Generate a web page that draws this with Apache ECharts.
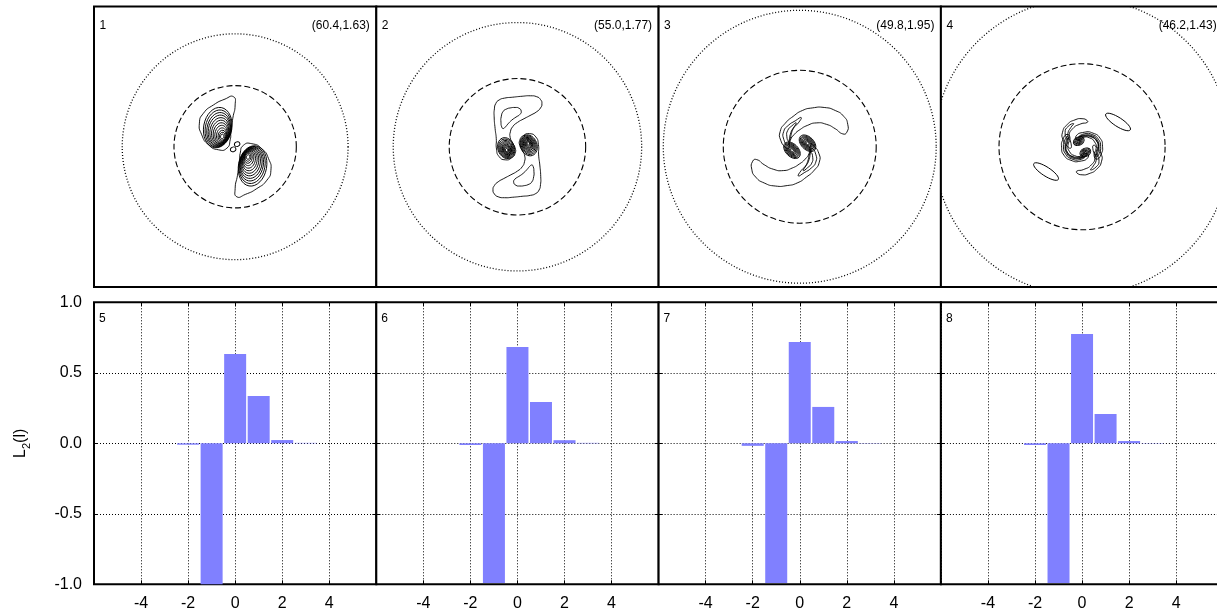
<!DOCTYPE html>
<html>
<head>
<meta charset="utf-8">
<title>Vortex snapshots and L2(l)</title>
<script src="https://cdn.jsdelivr.net/npm/echarts@6/dist/echarts.min.js"></script>
<style>
  html, body { margin: 0; padding: 0; background: #fff; }
  #chart { width: 1217px; height: 612px; }
</style>
</head>
<body>
<div id="chart"></div>
<script>
// ---------------- values ----------------
// angular momentum channels and the L2(l) weights of snapshots 5..8
const lValues  = [-3, -2, -1, 0, 1, 2, 3];
const L2Panel5 = [0.000, -0.010, -1.000, 0.633, 0.335, 0.023, 0.003];
const L2Panel6 = [0.000, -0.012, -0.990, 0.683, 0.293, 0.022, 0.003];
const L2Panel7 = [0.000, -0.018, -0.990, 0.719, 0.258, 0.016, 0.002];
const L2Panel8 = [0.000, -0.012, -0.990, 0.775, 0.208, 0.016, 0.002];

const xTickLabels = [-4, -2, 0, 2, 4];
const yTickLabels = [-1.0, -0.5, 0.0, 0.5, 1.0];

const snapshotTags  = ['(60.4,1.63)', '(55.0,1.77)', '(49.8,1.95)', '(46.2,1.43)'];
const panelNumbers  = ['1', '2', '3', '4', '5', '6', '7', '8'];

// reference circles of each snapshot (dashed inner, dotted outer)
const dashedRadius = [2.6, 2.9, 3.25, 3.53];
const dottedRadius = [4.8, 5.28, 5.8, 6.3];

// ---- snapshot 1: vortex lobe (the partner lobe is its 180-degree image) ----
const lobe1 = [[-0.07,2.14],[0.0,1.79],[-0.10,1.22],[-0.18,0.65],[-0.21,0.30],[-0.35,-0.06],
  [-0.71,-0.13],[-1.14,0.09],[-1.42,0.51],[-1.52,1.01],[-1.35,1.43],[-0.92,1.79],[-0.43,2.04]];
// nested level rings around the core: [x, y, rx, ry, angle]
const rings1 = [[-0.74,0.82,0.60,0.87,-10],[-0.72,0.78,0.55,0.80,-10],[-0.70,0.74,0.50,0.73,-10],
  [-0.68,0.70,0.46,0.66,-10],[-0.66,0.66,0.41,0.59,-10],[-0.64,0.62,0.36,0.52,-10],
  [-0.62,0.58,0.31,0.45,-10],[-0.60,0.54,0.26,0.38,-10],[-0.58,0.50,0.21,0.31,-10],
  [-0.56,0.47,0.165,0.24,-10],[-0.55,0.45,0.12,0.17,-10],[-0.55,0.44,0.07,0.10,-10]];
const pinch1 = [[0.085,0.11,0.12,0.10,30]];

// ---- snapshot 2 ----
const arm2 = [[-0.90,0.35],[-0.95,0.78],[-0.99,1.28],[-0.98,1.62],[-0.92,1.85],[-0.78,2.00],
  [-0.55,2.08],[-0.20,2.12],[0.20,2.16],[0.55,2.18],[0.82,2.14],[0.98,2.02],[1.04,1.84],
  [0.98,1.66],[0.82,1.50],[0.58,1.36],[0.28,1.20],[0.0,1.04],[-0.20,0.86],[-0.30,0.64],
  [-0.31,0.40],[-0.22,0.18],[-0.10,-0.05],[-0.10,-0.28],[-0.24,-0.47],[-0.52,-0.56],
  [-0.78,-0.42],[-0.89,-0.10]];
const armInner2 = [[-0.67,0.85],[-0.70,1.05],[-0.69,1.28],[-0.60,1.52],[-0.45,1.62],[-0.31,1.66],
  [-0.10,1.68],[0.06,1.65],[0.16,1.52],[0.10,1.38],[-0.06,1.27],[-0.24,1.14],[-0.40,0.98],
  [-0.52,0.84],[-0.61,0.78]];
const rings2 = [[-0.48,-0.06,0.35,0.46,20],[-0.475,-0.07,0.31,0.41,20],[-0.47,-0.08,0.27,0.36,20],
  [-0.465,-0.09,0.235,0.315,20],[-0.46,-0.10,0.20,0.27,20],[-0.46,-0.11,0.17,0.23,20],
  [-0.46,-0.12,0.14,0.19,20],[-0.46,-0.12,0.11,0.15,20],[-0.46,-0.13,0.08,0.11,20],
  [-0.46,-0.14,0.05,0.07,20]];

// ---- snapshot 3 ----
const armA3 = [[-0.57,-0.06],[-0.81,0.28],[-0.83,0.66],[-0.62,1.00],[-0.28,1.30],[0.11,1.55],[0.53,1.66],
  [1.04,1.68],[1.51,1.55],[1.87,1.30],[2.04,0.96],[2.00,0.62],[1.83,0.55],[1.51,0.77],[1.13,0.96],
  [0.70,1.02],[0.32,0.91],[0.02,0.74],[-0.23,0.53],[-0.40,0.28],[-0.47,-0.06]];
const armB3 = [[-0.51,0.06],[-0.68,0.32],[-0.68,0.66],[-0.49,0.91],[-0.19,1.11],[0.06,1.25],
  [-0.06,1.02],[-0.28,0.79],[-0.40,0.53],[-0.45,0.28]];
const armC3 = [[-0.47,0.23],[-0.55,0.45],[-0.51,0.70],[-0.34,0.89],[-0.15,1.02],[-0.28,0.77],
  [-0.36,0.55],[-0.40,0.36]];
const rings3 = [[0.33,0.15,0.42,0.27,-45],[0.33,0.15,0.37,0.235,-45],[0.33,0.15,0.32,0.20,-45],
  [0.33,0.15,0.27,0.17,-45],[0.33,0.15,0.22,0.14,-45],[0.33,0.15,0.17,0.11,-45],
  [0.33,0.15,0.12,0.08,-45],[0.33,0.15,0.07,0.05,-45]];

// ---- snapshot 4 ----
const blob4 = [[1.53,1.06,0.62,0.19,-33]];
const crescent4 = [[0.22,1.12],[0.0,1.20],[-0.30,1.15],[-0.62,0.96],[-0.83,0.62],[-0.80,0.28],
  [-0.62,0.02],[-0.48,-0.06],[-0.47,0.15],[-0.55,0.45],[-0.40,0.77],[-0.05,0.98],[0.22,1.04]];
const crescentInner4 = [[-0.62,0.32],[-0.72,0.62],[-0.60,0.86],[-0.36,0.99],[-0.48,0.82],
  [-0.60,0.58],[-0.58,0.32]];
const band4 = [[-0.26,0.45],[0.09,0.62],[0.47,0.58],[0.77,0.36],[0.87,0.02],[0.81,-0.32],[0.64,-0.53],
  [0.51,-0.36],[0.60,-0.06],[0.53,0.21],[0.32,0.38],[0.04,0.40],[-0.17,0.28]];
const bandInner4 = [[-0.18,0.38],[0.09,0.55],[0.46,0.51],[0.70,0.31],[0.79,0.01],[0.73,-0.29],
  [0.62,-0.44],[0.60,-0.22],[0.68,0.0],[0.62,0.24],[0.42,0.43],[0.08,0.47]];
const bandCore4 = [[-0.12,0.42],[0.09,0.50],[0.45,0.46],[0.65,0.28],[0.72,0.0],[0.67,-0.26],
  [0.63,-0.36],[0.64,-0.2],[0.70,0.0],[0.64,0.22],[0.44,0.40],[0.09,0.45]];
const rings4 = [[-0.14,0.24,0.24,0.18,25],[-0.14,0.24,0.19,0.14,25],[-0.14,0.24,0.14,0.105,25],
  [-0.14,0.24,0.09,0.07,25],[-0.14,0.24,0.045,0.035,25]];

// ---------------- layout ----------------
const FONT = 'Liberation Sans, Arial, sans-serif';
const PANEL_LEFT = 94, PANEL_W = 282.3;
const TOP_ROW = { top: 6.5, height: 280.5 };
const BOT_ROW = { top: 302.3, height: 282 };
const panelLeft = i => PANEL_LEFT + i * PANEL_W;

// ---------------- shape building ----------------
const flip = p => [-p[0], -p[1]];
const withPartner = loops => loops.concat(loops.map(l => l.map(flip)));
const ellWithPartner = es => es.concat(es.map(e => [-e[0], -e[1], e[2], e[3], e[4]]));

function snapshotShapes(k, loops, ellipses) {
  const shapes = [
    { kind: 'circle', r: dottedRadius[k], dash: [1, 2], lw: 1.3 },
    { kind: 'circle', r: dashedRadius[k], dash: [6, 3], lw: 1.1 }
  ];
  withPartner(loops).forEach(pts => shapes.push({ kind: 'loop', pts }));
  ellWithPartner(ellipses).forEach(e => shapes.push({ kind: 'ellipse', e }));
  return shapes;
}

const snapshots = [
  snapshotShapes(0, [lobe1], rings1.concat(pinch1)),
  snapshotShapes(1, [arm2, armInner2], rings2),
  snapshotShapes(2, [armA3, armB3, armC3], rings3),
  snapshotShapes(3, [crescent4, crescentInner4, band4, bandInner4, bandCore4], rings4.concat(blob4))
];

function anchorOf(s) {
  if (s.kind === 'circle') return [0, 0];
  if (s.kind === 'ellipse') return [s.e[0], s.e[1]];
  return s.pts[0];
}

function contourSeries(k) {
  const shapes = snapshots[k];
  return {
    type: 'custom',
    coordinateSystem: 'cartesian2d',
    xAxisIndex: k, yAxisIndex: k,
    silent: true, animation: false, clip: true,
    data: shapes.map(anchorOf),
    renderItem: function (params, api) {
      const s = shapes[params.dataIndex];
      const style = { stroke: '#000', fill: 'none', lineWidth: s.lw || 0.9 };
      if (s.dash) style.lineDash = s.dash;
      if (s.kind === 'circle') {
        const c = api.coord([0, 0]);
        return { type: 'circle', shape: { cx: c[0], cy: c[1], r: api.size([s.r, 0])[0] }, style };
      }
      if (s.kind === 'ellipse') {
        const [u, v, rx, ry, ang] = s.e;
        const c = api.coord([u, v]);
        return {
          type: 'ellipse', x: c[0], y: c[1], rotation: ang * Math.PI / 180,
          shape: { cx: 0, cy: 0, rx: api.size([rx, 0])[0], ry: api.size([0, ry])[1] },
          style
        };
      }
      return { type: 'polygon', shape: { points: s.pts.map(p => api.coord(p)), smooth: 0.6 }, style };
    }
  };
}

// ---------------- grids & axes ----------------
const grids = [], xAxes = [], yAxes = [], series = [], graphics = [];
const L2Series = [L2Panel5, L2Panel6, L2Panel7, L2Panel8];

for (let i = 0; i < 4; i++) {
  grids.push({ left: panelLeft(i), width: PANEL_W, top: TOP_ROW.top, height: TOP_ROW.height,
    show: true, borderColor: '#000', borderWidth: 2, backgroundColor: '#fff',
    containLabel: false, outerBoundsMode: 'none' });
}
for (let i = 0; i < 4; i++) {
  grids.push({ left: panelLeft(i), width: PANEL_W, top: BOT_ROW.top, height: BOT_ROW.height,
    show: true, borderColor: '#000', borderWidth: 2, backgroundColor: '#fff',
    containLabel: false, outerBoundsMode: 'none' });
}

// snapshot axes (hidden)
for (let i = 0; i < 4; i++) {
  xAxes.push({ gridIndex: i, type: 'value', min: -6, max: 6, show: false });
  yAxes.push({ gridIndex: i, type: 'value', min: -6, max: 6, show: false });
}

const tickStyle = { show: true, inside: true, length: 4, lineStyle: { color: '#000', width: 1 } };
const gridLineStyle = { show: true, lineStyle: { color: '#000', width: 1, type: [1, 2] } };
const noLine = { show: false, onZero: false };

for (let i = 0; i < 4; i++) {
  const g = 4 + i;
  xAxes.push({
    gridIndex: g, type: 'value', min: -6, max: 6, interval: 2, position: 'bottom',
    axisLine: noLine, axisTick: tickStyle,
    axisLabel: {
      show: true, color: '#000', fontSize: 16, fontFamily: FONT, margin: 11,
      showMinLabel: false, showMaxLabel: false,
      formatter: v => (xTickLabels.indexOf(v) >= 0 ? String(v) : '')
    },
    splitLine: gridLineStyle
  });
  yAxes.push({
    gridIndex: g, type: 'value', min: -1, max: 1, interval: 0.5, position: 'left',
    axisLine: noLine, axisTick: tickStyle,
    axisLabel: {
      show: i === 0, color: '#000', fontSize: 16, fontFamily: FONT, margin: 12,
      formatter: v => (yTickLabels.indexOf(v) >= 0 ? v.toFixed(1) : '')
    },
    splitLine: gridLineStyle,
    name: i === 0 ? '{m|L}{s|2}{m|(l)}' : '',
    nameLocation: 'middle', nameRotate: 90, nameGap: 62,
    nameTextStyle: {
      rich: {
        m: { color: '#000', fontSize: 16, fontFamily: FONT, lineHeight: 22, verticalAlign: 'middle' },
        s: { color: '#000', fontSize: 11, fontFamily: FONT, lineHeight: 22, verticalAlign: 'bottom' }
      }
    }
  });
}
// mirrored tick marks on top and right edges of the L2 panels
for (let i = 0; i < 4; i++) {
  const g = 4 + i;
  xAxes.push({ gridIndex: g, type: 'value', min: -6, max: 6, interval: 2, position: 'top',
    axisLine: noLine, axisTick: tickStyle, axisLabel: { show: false }, splitLine: { show: false } });
  yAxes.push({ gridIndex: g, type: 'value', min: -1, max: 1, interval: 0.5, position: 'right',
    axisLine: noLine, axisTick: tickStyle, axisLabel: { show: false }, splitLine: { show: false } });
}

// ---------------- series ----------------
for (let k = 0; k < 4; k++) series.push(contourSeries(k));
for (let i = 0; i < 4; i++) {
  series.push({
    type: 'bar', xAxisIndex: 4 + i, yAxisIndex: 4 + i,
    data: lValues.map((l, j) => [l, L2Series[i][j]]),
    barWidth: 22, itemStyle: { color: '#8080ff' },
    silent: true, animation: false, clip: true
  });
}

// ---------------- panel annotations ----------------
const txt = (x, y, text, align) => ({
  type: 'text', x, y, silent: true, z: 100,
  style: { text, fill: '#000', font: '12px ' + FONT, align, verticalAlign: 'middle',
           textAlign: align, textVerticalAlign: 'middle' }
});
for (let i = 0; i < 4; i++) {
  graphics.push(txt(panelLeft(i) + 5.5, 26, panelNumbers[i], 'left'));
  graphics.push(txt(panelLeft(i) + PANEL_W - 6.5, 26, snapshotTags[i], 'right'));
  graphics.push(txt(panelLeft(i) + 5, 318.5, panelNumbers[4 + i], 'left'));
}

const chart = echarts.init(document.getElementById('chart'), null, { renderer: 'canvas' });
chart.setOption({
  backgroundColor: '#fff',
  animation: false,
  grid: grids, xAxis: xAxes, yAxis: yAxes,
  series, graphic: graphics
});
</script>
</body>
</html>
